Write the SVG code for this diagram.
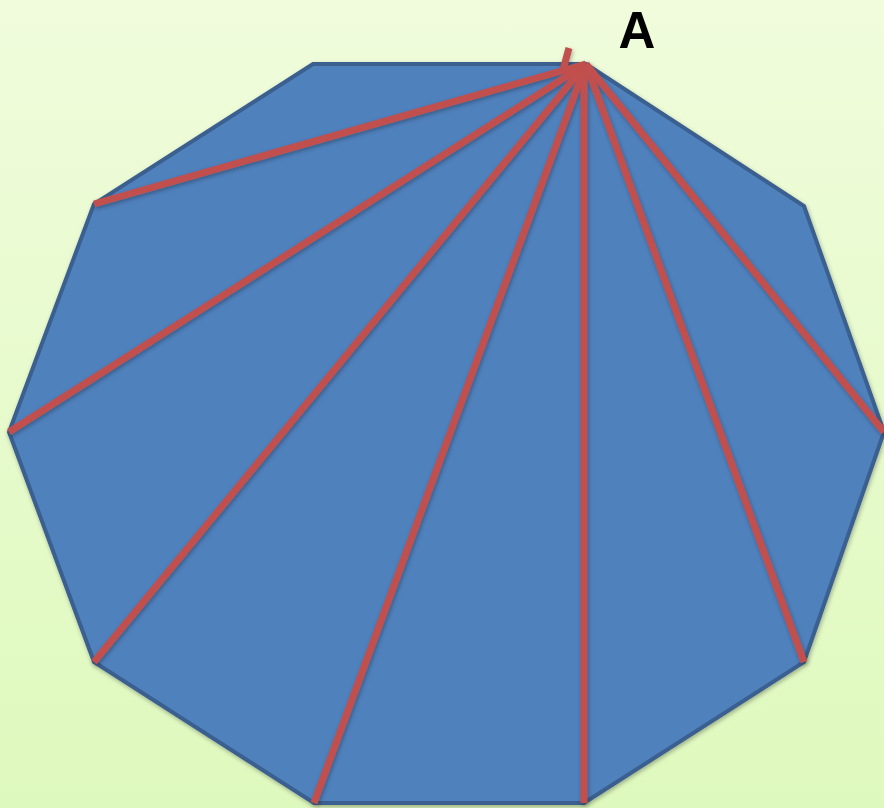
<svg xmlns="http://www.w3.org/2000/svg" width="884" height="808" viewBox="0 0 884 808">
<defs>
<linearGradient id="bg" x1="0" y1="0" x2="0" y2="1">
<stop offset="0" stop-color="#f0fcdc"/>
<stop offset="1" stop-color="#def9bd"/>
</linearGradient>
<filter id="sh" x="-10%" y="-10%" width="120%" height="120%">
<feDropShadow dx="1" dy="2" stdDeviation="2" flood-color="#000" flood-opacity="0.3"/>
</filter>
<style>
.poly{fill:#4f81bd;stroke:#3a5f8e;stroke-width:4;stroke-linejoin:miter}
.diag{stroke:#c0504d;stroke-width:7;stroke-linecap:butt;fill:none}
.lbl{font-family:"Liberation Sans",Arial,sans-serif;font-weight:bold;font-size:51px;fill:#000}
</style>
</defs>
<rect width="884" height="808" fill="url(#bg)"/>
<g id="decagon" filter="url(#sh)">
<polygon class="poly" points="313,64 586,64 804,206 884,432 804,662 584,803 314,803 94,662 9,432 94,204"/>
</g>
<g id="connectors" filter="url(#sh)">
<line class="diag" x1="569" y1="48" x2="563" y2="70"/>
<line class="diag" x1="586" y1="64" x2="94" y2="204"/>
<line class="diag" x1="586" y1="64" x2="9" y2="432"/>
<line class="diag" x1="586" y1="64" x2="94" y2="662"/>
<line class="diag" x1="586" y1="64" x2="314" y2="803"/>
<line class="diag" x1="584" y1="64" x2="584" y2="803"/>
<line class="diag" x1="586" y1="64" x2="804" y2="662"/>
<line class="diag" x1="586" y1="64" x2="884" y2="432"/>
</g>
<g id="label-A">
<text class="lbl" x="637" y="48" text-anchor="middle">A</text>
</g>
</svg>
